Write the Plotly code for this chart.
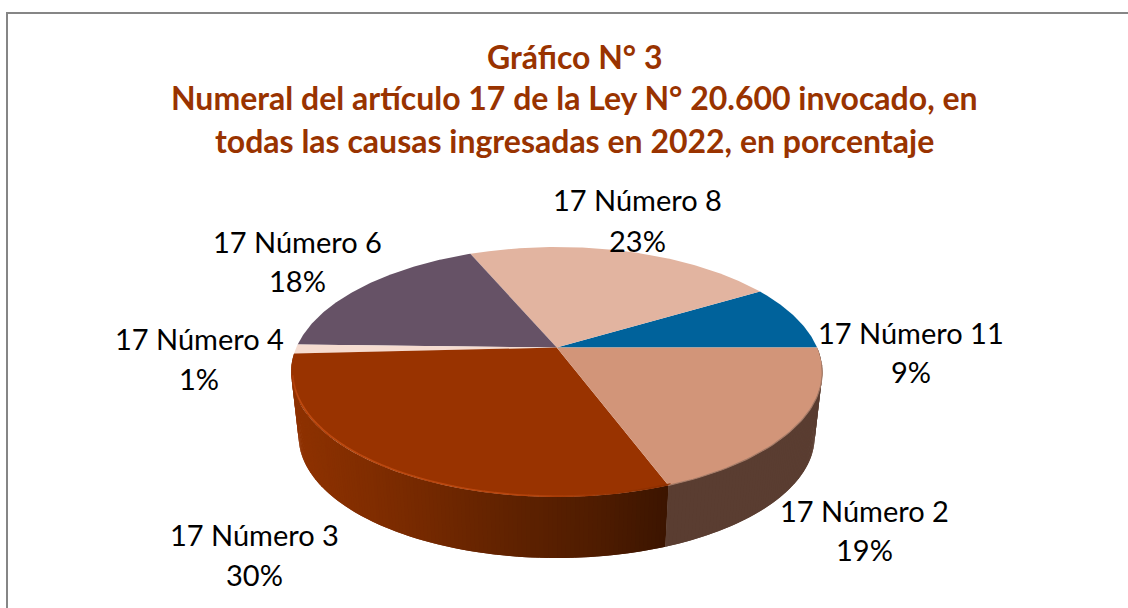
import numpy as np
import plotly.graph_objects as go

# ---- data (counter-clockwise from 3 o'clock) ----
categories = ["17 Número 11", "17 Número 8", "17 Número 6", "17 Número 4", "17 Número 3", "17 Número 2"]
values = [8.55, 22.85, 18.2, 1.2, 29.9, 19.3]
face_colors = ["#00629B", "#E2B4A0", "#665266", "#F6DCD0", "#993300", "#D29579"]

title_lines = [
    "Gráfico N° 3",
    "Numeral del artículo 17 de la Ley N° 20.600 invocado, en",
    "todas las causas ingresadas en 2022, en porcentaje",
]

# ---- layout / projection constants ----
W, H = 1128, 608
CX = 556.7
TOP_Y, BOT_Y = 347.5, 412.5
TOP_R, TOP_B = 260.4, 120.2
BOT_R, BOT_B = 253.0, 117.0
K = 0.196
label_pos = {
    "17 Número 11": (911, 332.5, 371.5),
    "17 Número 8": (637, 199.5, 240.5),
    "17 Número 6": (297, 241.5, 280.5),
    "17 Número 4": (199, 338.5, 378.5),
    "17 Número 3": (254, 534.5, 574.5),
    "17 Número 2": (864, 510.5, 549.5),
}
LABEL_FONT = dict(family="Lato", size=29, color="#000000")
TITLE_FONT = dict(family="Lato", size=32, color="#993300", weight="bold")
title_y = [56, 97, 140]


def rim(t_deg, cy, r, b, scale=1.0):
    t = np.radians(t_deg)
    w = 1 + K * np.sin(t)
    return CX + scale * r * np.cos(t) / w, cy - scale * b * np.sin(t) / w


def hex2rgb(h):
    return np.array([int(h[i:i + 2], 16) for i in (1, 3, 5)], float)


def ramp(x, xs, cols):
    rgb = [np.interp(x, xs, [hex2rgb(c)[i] for c in cols]) for i in range(3)]
    return "rgb(%d,%d,%d)" % tuple(rgb)


fig = go.Figure()


def poly(x, y, color):
    fig.add_trace(go.Scatter(x=x, y=y, mode="lines", fill="toself", fillcolor=color,
                             line=dict(color=color, width=0), hoverinfo="skip", showlegend=False))


def wall_strip(a, b, color):
    x1, y1 = rim(np.array([a, b]), TOP_Y, TOP_R, TOP_B)
    x2, y2 = rim(np.array([b, a]), BOT_Y, BOT_R, BOT_B)
    poly(list(x1) + list(x2) + [x1[0]], list(y1) + list(y2) + [y1[0]], color)


edges = np.concatenate([[0], np.cumsum(values)]) * 3.6
bounds = dict(zip(categories, zip(edges[:-1], edges[1:])))

# side wall: N3 with a horizontal shade, N2 in a flat dark tone
n3_a, n3_b = bounds["17 Número 3"]
n2_a, n2_b = bounds["17 Número 2"]
STEP = 0.8
for a in np.arange(n3_a, n3_b, STEP):
    x_mid = rim(a, TOP_Y, TOP_R, TOP_B)[0]
    col = ramp(x_mid, [292, 400, 500, 600, 666], ["#8F3200", "#7A2B00", "#622300", "#4E1C00", "#3C1500"])
    wall_strip(a, min(a + 2 * STEP, n3_b), col)
for a in np.arange(n2_b, n2_a, -STEP):
    wall_strip(a, max(a - 2 * STEP, n2_a), "#5A3D31")

# top faces
for name, col in zip(categories, face_colors):
    a, b = bounds[name]
    tt = np.linspace(a, b, max(int(b - a) * 2, 6))
    x, y = rim(tt, TOP_Y, TOP_R, TOP_B)
    poly([CX] + list(x) + [CX], [TOP_Y] + list(y) + [TOP_Y], col)

# bevel highlight along the front rim of N3
for a in np.arange(n3_a + 10, n3_b, 2.0):
    x, y = rim(np.array([a, a + 2.2]), TOP_Y, TOP_R, TOP_B, 0.994)
    col = ramp(a, [190, 205, 262, 285], ["#A83A08", "#C04C12", "#B8460E", "#8E3000"])
    fig.add_trace(go.Scatter(x=x, y=y, mode="lines", line=dict(color=col, width=1.6),
                             hoverinfo="skip", showlegend=False))
# soft rim on N2
tt = np.linspace(n2_a, 352, 50)
x, y = rim(tt, TOP_Y, TOP_R, TOP_B)
fig.add_trace(go.Scatter(x=x, y=y, mode="lines", line=dict(color="#A47A66", width=1.2),
                         hoverinfo="skip", showlegend=False))

# chart frame (left and top edges are in view)
fig.add_trace(go.Scatter(x=[7, 7, W], y=[H, 13, 13], mode="lines",
                         line=dict(color="#868686", width=2), hoverinfo="skip", showlegend=False))

ann = []
for line, y in zip(title_lines, title_y):
    ann.append(dict(x=574.5, y=y, xref="x", yref="y", text=line, showarrow=False,
                    xanchor="center", yanchor="middle", font=TITLE_FONT))
for name, v in zip(categories, values):
    x, y1, y2 = label_pos[name]
    ann.append(dict(x=x, y=y1, xref="x", yref="y", text=name, showarrow=False,
                    xanchor="center", yanchor="middle", font=LABEL_FONT))
    ann.append(dict(x=x, y=y2, xref="x", yref="y", text="%d%%" % round(v), showarrow=False,
                    xanchor="center", yanchor="middle", font=LABEL_FONT))

fig.update_layout(
    width=W, height=H, margin=dict(l=0, r=0, t=0, b=0),
    paper_bgcolor="white", plot_bgcolor="white", showlegend=False, annotations=ann,
    xaxis=dict(range=[0, W], visible=False, fixedrange=True),
    yaxis=dict(range=[H, 0], visible=False, fixedrange=True),
)
fig.write_html("out.html", post_script="document.body.style.margin='0';document.body.style.overflow='hidden';",
               config=dict(displayModeBar=False))
